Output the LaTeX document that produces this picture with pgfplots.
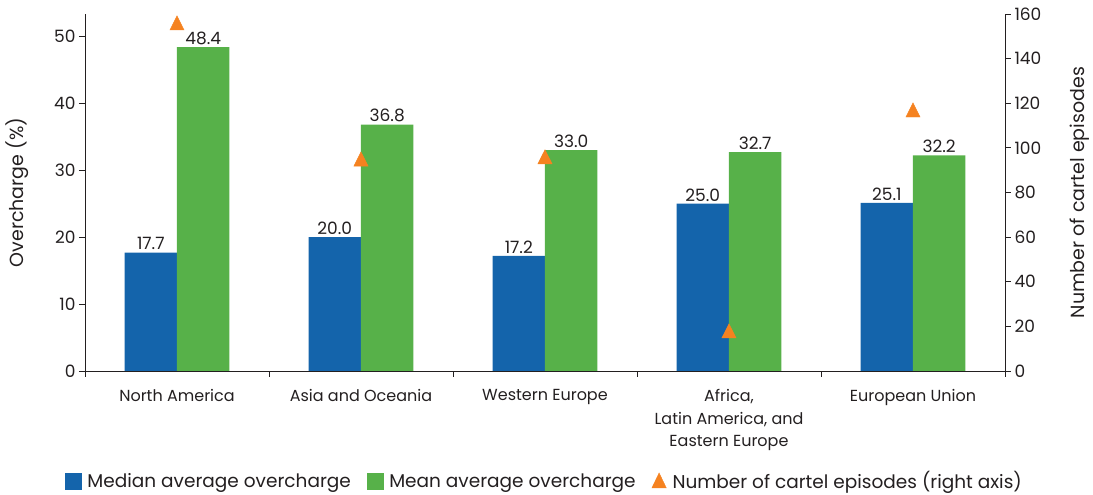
\documentclass[border=0pt]{standalone}
\usepackage{fontspec}
\setmainfont{Poppins}
\usepackage{pgfplots}
\pgfplotsset{compat=1.18}

\definecolor{medblue}{HTML}{1464AB}
\definecolor{meangreen}{HTML}{57B149}
\definecolor{triorange}{HTML}{F58220}
\definecolor{txt}{HTML}{231F20}

\pgfplotsset{
  overlay axis/.style={
    scale only axis, width=920bp, height=357bp,
    xmin=-0.5, xmax=4.5,
    tick align=outside,
    major tick length=6bp,
    axis line style={txt, line width=0.9bp},
    every tick/.style={txt, line width=0.9bp},
    tick label style={font=\fontsize{17bp}{20bp}\selectfont, text=txt},
    label style={font=\fontsize{19bp}{22bp}\selectfont, text=txt},
    /pgf/number format/assume math mode=true,
  },
  value labels/.style={
    nodes near coords,
    every node near coord/.append style={
      font=\fontsize{17bp}{20bp}\selectfont, text=txt,
      /pgf/number format/fixed, /pgf/number format/fixed zerofill,
      /pgf/number format/precision=1, xshift=#1, yshift=-1bp},
  },
}

\begin{document}
\begin{tikzpicture}
\begin{axis}[
  overlay axis,
  ymin=0, ymax=53.3333,
  axis x line*=bottom, axis y line*=left,
  xtick={0,...,4},
  xticklabels={North America, Asia and Oceania, Western Europe,
    {Africa,\\Latin America, and\\Eastern Europe}, European Union},
  xticklabel style={align=center, font=\fontsize{16bp}{22.5bp}\selectfont, yshift=-9bp},
  xtick style={draw=none},
  ytick={0,10,...,50},
  ylabel={Overcharge (\%)},
  ylabel style={at={(axis description cs:-0.0739,0.5)}, anchor=center},
  legend columns=3,
  legend style={at={(0.5016,-0.308)}, anchor=center, draw=none, fill=none,
    font=\fontsize{18.5bp}{22bp}\selectfont, text=txt,
    /tikz/every even column/.append style={column sep=10bp},
    nodes={inner xsep=6bp}},
]
\addlegendimage{legend image code/.code={\fill[medblue] (0bp,-8bp) rectangle (16bp,8bp);}}
\addlegendentry{Median average overcharge}
\addlegendimage{legend image code/.code={\fill[meangreen] (0bp,-8bp) rectangle (16bp,8bp);}}
\addlegendentry{Mean average overcharge}
\addlegendimage{legend image code/.code={\fill[triorange] (8bp,8bp) -- (0.8bp,-7bp) -- (15.2bp,-7bp) -- cycle;}}
\addlegendentry{Number of cartel episodes (right axis)}

% median overcharge by region
\addplot[ybar, bar width=0.285, bar shift=-0.1425, fill=medblue, draw=none,
  forget plot, value labels=-26.2bp]
  coordinates {(0,17.7) (1,20.0) (2,17.2) (3,25.0) (4,25.1)};
% mean overcharge by region
\addplot[ybar, bar width=0.285, bar shift=0.1425, fill=meangreen, draw=none,
  forget plot, value labels=26.2bp]
  coordinates {(0,48.4) (1,36.8) (2,33.0) (3,32.7) (4,32.2)};

\coordinate (bl) at (rel axis cs:0,0);
\coordinate (tr) at (rel axis cs:1,1);
\end{axis}

% tick marks between the regions
\begin{axis}[
  overlay axis,
  ymin=0, ymax=1,
  axis x line*=bottom, axis y line=none,
  xtick={-0.5,0.5,...,4.5},
  xticklabels={},
]
\end{axis}

\begin{axis}[
  overlay axis,
  ymin=0, ymax=160,
  axis x line=none, axis y line*=right,
  ytick={0,20,...,160},
  ylabel={Number of cartel episodes},
  ylabel style={at={(axis description cs:1.0815,0.5)}, anchor=center},
]
% number of cartel episodes, right scale
\addplot[only marks, mark=triangle*, mark size=8.2bp, color=triorange,
  mark options={yshift=-2.35bp, yscale=1.15, draw=none, fill=triorange}]
  coordinates {(0,156) (1,95) (2,96) (3,18) (4,117)};
\end{axis}

\path ([shift={(-85bp,-123bp)}]bl) rectangle ([shift={(88bp,14bp)}]tr);
\end{tikzpicture}
\end{document}
